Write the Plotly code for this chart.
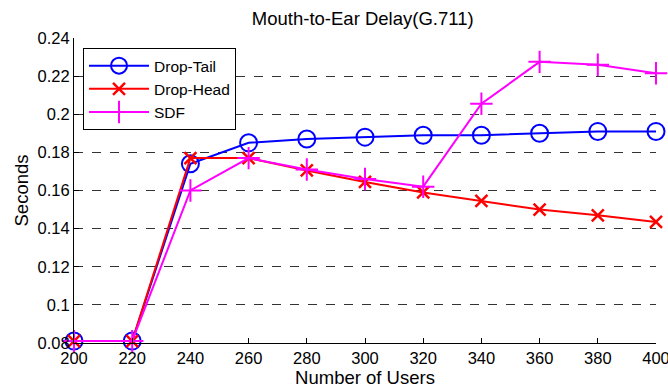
import plotly.graph_objects as go

users = [200, 220, 240, 260, 280, 300, 320, 340, 360, 380, 400]
drop_tail = [0.081, 0.081, 0.174, 0.185, 0.187, 0.188, 0.189, 0.189, 0.190, 0.191, 0.191]
drop_head = [0.081, 0.081, 0.177, 0.177, 0.1705, 0.1645, 0.159, 0.1545, 0.150, 0.147, 0.1435]
sdf = [0.081, 0.081, 0.160, 0.177, 0.171, 0.166, 0.162, 0.2055, 0.2275, 0.226, 0.2215]
y_ticks = [0.08, 0.1, 0.12, 0.14, 0.16, 0.18, 0.2, 0.22, 0.24]
y_labels = ["0.08", "0.1", "0.12", "0.14", "0.16", "0.18", "0.2", "0.22", "0.24"]

fig = go.Figure()
fig.add_trace(go.Scatter(x=users, y=drop_tail, name="Drop-Tail", mode="lines+markers", cliponaxis=False,
                         line=dict(color="#0000ff", width=2),
                         marker=dict(symbol="circle-open", size=17, color="#0000ff", line=dict(width=2))))
fig.add_trace(go.Scatter(x=users, y=drop_head, name="Drop-Head", mode="lines+markers", cliponaxis=False,
                         line=dict(color="#ff0000", width=2),
                         marker=dict(symbol="x-thin-open", size=12, color="#ff0000", line=dict(width=2.5))))
fig.add_trace(go.Scatter(x=users, y=sdf, name="SDF", mode="lines+markers", cliponaxis=False,
                         line=dict(color="#ff00ff", width=2),
                         marker=dict(symbol="cross-thin-open", size=16, color="#ff00ff", line=dict(width=2))))

font = "Liberation Sans, Arial, sans-serif"
fig.update_layout(
    width=668, height=392,
    margin=dict(l=74, r=12, t=38, b=49),
    paper_bgcolor="white", plot_bgcolor="white",
    font=dict(family=font, size=16, color="black"),
    title=dict(text="Mouth-to-Ear Delay(G.711)", x=0.543, xanchor="center", y=0.952, yanchor="middle",
               font=dict(size=18.5)),
    showlegend=True,
    legend=dict(x=0.0155, y=0.967, xanchor="left", yanchor="top", bordercolor="black", borderwidth=1,
                bgcolor="white", font=dict(size=15.5), itemwidth=60, tracegroupgap=0),
)
fig.update_xaxes(range=[200, 400], tickvals=users, ticks="inside", ticklen=5, tickcolor="black",
                 showline=True, linecolor="black", linewidth=1, showgrid=False, zeroline=False,
                 ticklabeloverflow="allow", automargin=False,
                 title=dict(text="Number of Users", standoff=4, font=dict(size=18.5)), tickfont=dict(size=16.5))
fig.update_yaxes(range=[0.08, 0.24], tickvals=y_ticks, ticktext=y_labels, ticks="inside", ticklen=5,
                 tickcolor="black", showline=True, linecolor="black", linewidth=1,
                 showgrid=True, gridcolor="#333333", griddash="dash", gridwidth=1, zeroline=False,
                 ticklabeloverflow="allow", automargin=False,
                 title=dict(text="Seconds", standoff=4, font=dict(size=18.5)), tickfont=dict(size=16.5))

fig.write_html("out.html")
